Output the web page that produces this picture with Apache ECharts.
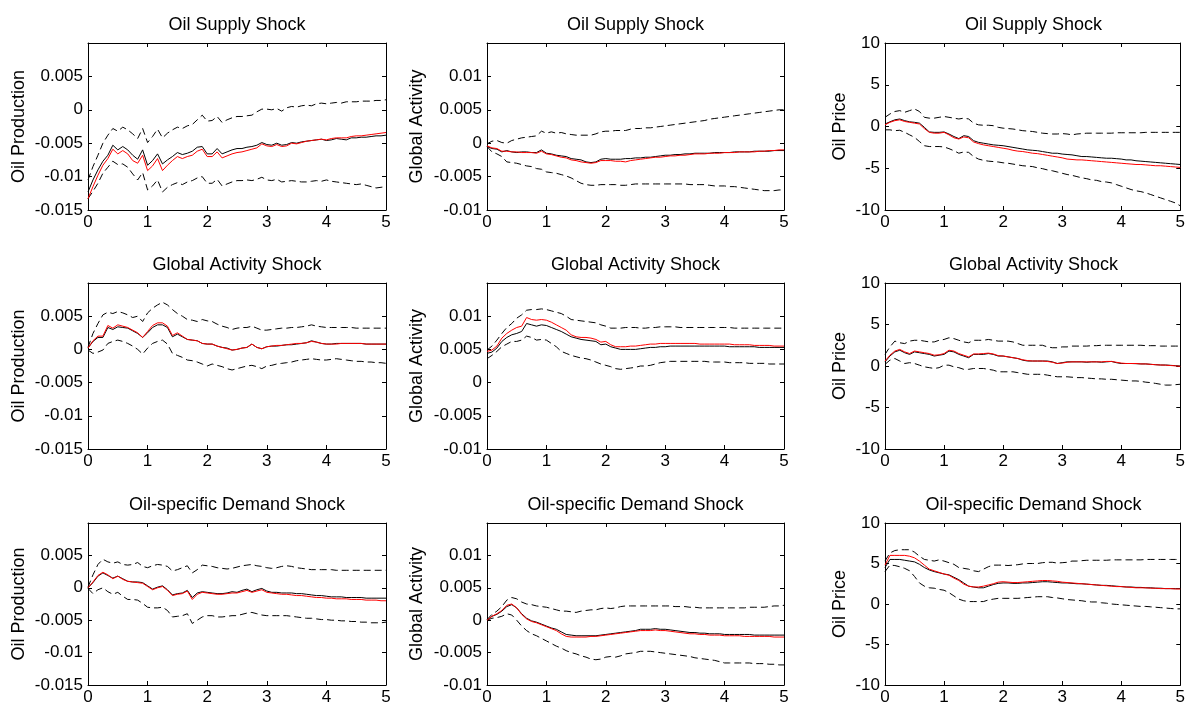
<!DOCTYPE html>
<html>
<head>
<meta charset="utf-8">
<title>Impulse responses</title>
<script src="https://cdn.jsdelivr.net/npm/echarts@6/dist/echarts.min.js"></script>
<style>
html, body { margin: 0; padding: 0; background: #fff; }
#chart { width: 1188px; height: 706px; }
</style>
</head>
<body>
<div id="chart"></div>
<script>
// horizon in months (x axis shows years)
const months = [
  0,1,2,3,4,5,6,7,8,9,10,11,12,13,14,15,16,17,18,19,20,21,22,23,24,25,26,27,28,29,
  30,31,32,33,34,35,36,37,38,39,40,41,42,43,44,45,46,47,48,49,50,51,52,53,54,55,56,57,58,59,60
];
const xTicks = [0, 1, 2, 3, 4, 5];
const prodTicks = [-0.015, -0.01, -0.005, 0, 0.005];
const actTicks = [-0.01, -0.005, 0, 0.005, 0.01];
const priceTicks = [-10, -5, 0, 5, 10];

const shocks = ["Oil Supply Shock", "Global Activity Shock", "Oil-specific Demand Shock"];
const variables = ["Oil Production", "Global Activity", "Oil Price"];

// ---- oil supply shock ----
const osProdBlack = [
  -0.0123,-0.0105,-0.0090,-0.0077,-0.0068,-0.0053,-0.0060,-0.0055,-0.0060,-0.0068,
  -0.0074,-0.0060,-0.0083,-0.0076,-0.0066,-0.0081,-0.0075,-0.0070,-0.0064,-0.0067,
  -0.0065,-0.0062,-0.0056,-0.0055,-0.0066,-0.0066,-0.0058,-0.0066,-0.0063,-0.0060,
  -0.0058,-0.0058,-0.0056,-0.0055,-0.0053,-0.0049,-0.0052,-0.0053,-0.0050,-0.0053,
  -0.0052,-0.0049,-0.0050,-0.0048,-0.0047,-0.0046,-0.0045,-0.0044,-0.0046,-0.0045,
  -0.0043,-0.0044,-0.0045,-0.0042,-0.0042,-0.0041,-0.0041,-0.0040,-0.0039,-0.0039,
  -0.0038
];
const osProdRed = [
  -0.0133,-0.0115,-0.0098,-0.0083,-0.0073,-0.0059,-0.0066,-0.0061,-0.0066,-0.0076,
  -0.0080,-0.0068,-0.0091,-0.0084,-0.0073,-0.0091,-0.0083,-0.0076,-0.0070,-0.0073,
  -0.0070,-0.0068,-0.0062,-0.0059,-0.0070,-0.0070,-0.0063,-0.0072,-0.0069,-0.0066,
  -0.0064,-0.0063,-0.0061,-0.0059,-0.0057,-0.0051,-0.0054,-0.0055,-0.0052,-0.0055,
  -0.0054,-0.0050,-0.0051,-0.0049,-0.0047,-0.0046,-0.0045,-0.0044,-0.0045,-0.0043,
  -0.0042,-0.0042,-0.0042,-0.0040,-0.0039,-0.0039,-0.0038,-0.0037,-0.0036,-0.0035,
  -0.0034
];
const osProdUp = [
  -0.0105,-0.0085,-0.0068,-0.0050,-0.0038,-0.0028,-0.0032,-0.0026,-0.0030,-0.0036,
  -0.0043,-0.0028,-0.0049,-0.0040,-0.0029,-0.0042,-0.0035,-0.0030,-0.0026,-0.0028,
  -0.0024,-0.0022,-0.0015,-0.0008,-0.0017,-0.0016,-0.0010,-0.0019,-0.0015,-0.0012,
  -0.0010,-0.0010,-0.0009,-0.0008,-0.0003,0.0001,0.0001,0.0000,0.0002,-0.0002,
  0.0003,0.0005,0.0004,0.0006,0.0007,0.0006,0.0009,0.0010,0.0009,0.0010,
  0.0011,0.0010,0.0012,0.0012,0.0012,0.0013,0.0013,0.0013,0.0014,0.0014,
  0.0015
];
const osProdLow = [
  -0.0133,-0.0122,-0.0110,-0.0095,-0.0086,-0.0077,-0.0082,-0.0081,-0.0086,-0.0096,
  -0.0105,-0.0094,-0.0120,-0.0114,-0.0105,-0.0123,-0.0116,-0.0112,-0.0109,-0.0112,
  -0.0108,-0.0106,-0.0102,-0.0100,-0.0110,-0.0110,-0.0104,-0.0114,-0.0111,-0.0108,
  -0.0106,-0.0106,-0.0105,-0.0106,-0.0104,-0.0101,-0.0105,-0.0106,-0.0104,-0.0108,
  -0.0107,-0.0106,-0.0107,-0.0108,-0.0108,-0.0107,-0.0106,-0.0107,-0.0105,-0.0107,
  -0.0108,-0.0109,-0.0110,-0.0111,-0.0112,-0.0111,-0.0113,-0.0115,-0.0117,-0.0116,
  -0.0115
];
const osActBlack = [
  -0.0005,-0.0008,-0.0009,-0.0013,-0.0011,-0.0013,-0.0014,-0.0013,-0.0013,-0.0014,
  -0.0014,-0.0010,-0.0015,-0.0016,-0.0018,-0.0019,-0.0020,-0.0023,-0.0024,-0.0025,
  -0.0028,-0.0029,-0.0028,-0.0024,-0.0023,-0.0024,-0.0024,-0.0024,-0.0023,-0.0023,
  -0.0022,-0.0022,-0.0021,-0.0021,-0.0020,-0.0019,-0.0018,-0.0018,-0.0017,-0.0017,
  -0.0016,-0.0016,-0.0015,-0.0015,-0.0015,-0.0015,-0.0014,-0.0014,-0.0014,-0.0014,
  -0.0013,-0.0013,-0.0013,-0.0013,-0.0012,-0.0012,-0.0012,-0.0012,-0.0011,-0.0011,
  -0.0011
];
const osActRed = [
  -0.0004,-0.0007,-0.0008,-0.0012,-0.0012,-0.0013,-0.0013,-0.0014,-0.0014,-0.0014,
  -0.0015,-0.0012,-0.0016,-0.0017,-0.0019,-0.0021,-0.0022,-0.0025,-0.0026,-0.0028,
  -0.0029,-0.0030,-0.0029,-0.0026,-0.0026,-0.0026,-0.0027,-0.0027,-0.0028,-0.0026,
  -0.0025,-0.0024,-0.0023,-0.0022,-0.0021,-0.0021,-0.0020,-0.0019,-0.0019,-0.0018,
  -0.0018,-0.0017,-0.0016,-0.0016,-0.0016,-0.0015,-0.0015,-0.0015,-0.0014,-0.0014,
  -0.0014,-0.0013,-0.0013,-0.0013,-0.0013,-0.0012,-0.0012,-0.0011,-0.0011,-0.0010,
  -0.0010
];
const osActUp = [
  -0.0001,0.0003,0.0004,0.0001,0.0000,0.0004,0.0006,0.0008,0.0009,0.0010,
  0.0011,0.0018,0.0015,0.0017,0.0015,0.0016,0.0014,0.0013,0.0012,0.0012,
  0.0012,0.0012,0.0014,0.0017,0.0018,0.0018,0.0019,0.0019,0.0019,0.0021,
  0.0022,0.0022,0.0023,0.0023,0.0024,0.0025,0.0026,0.0027,0.0028,0.0029,
  0.0030,0.0031,0.0032,0.0033,0.0034,0.0036,0.0037,0.0038,0.0039,0.0040,
  0.0041,0.0042,0.0043,0.0044,0.0045,0.0046,0.0047,0.0048,0.0049,0.0050,
  0.0050
];
const osActLow = [
  -0.0005,-0.0013,-0.0016,-0.0020,-0.0028,-0.0029,-0.0030,-0.0032,-0.0034,-0.0035,
  -0.0038,-0.0039,-0.0043,-0.0044,-0.0045,-0.0047,-0.0049,-0.0052,-0.0056,-0.0060,
  -0.0062,-0.0063,-0.0063,-0.0062,-0.0062,-0.0062,-0.0062,-0.0063,-0.0063,-0.0062,
  -0.0061,-0.0061,-0.0061,-0.0061,-0.0061,-0.0061,-0.0061,-0.0061,-0.0061,-0.0061,
  -0.0061,-0.0062,-0.0062,-0.0062,-0.0062,-0.0063,-0.0064,-0.0064,-0.0064,-0.0065,
  -0.0065,-0.0066,-0.0067,-0.0068,-0.0069,-0.0070,-0.0071,-0.0071,-0.0071,-0.0070,
  -0.0070
];
const osPriceBlack = [
  0.3,0.56,0.8,0.9,0.7,0.56,0.5,0.4,-0.1,-0.65,
  -0.7,-0.7,-0.65,-0.9,-1.2,-1.45,-1.1,-1.2,-1.7,-1.9,
  -2.0,-2.1,-2.2,-2.25,-2.3,-2.4,-2.5,-2.6,-2.7,-2.8,
  -2.85,-2.9,-3.0,-3.1,-3.2,-3.2,-3.3,-3.35,-3.4,-3.5,
  -3.6,-3.6,-3.65,-3.7,-3.75,-3.8,-3.8,-3.85,-3.9,-4.0,
  -4.0,-4.1,-4.15,-4.2,-4.25,-4.3,-4.35,-4.4,-4.45,-4.5,
  -4.55
];
const osPriceRed = [
  0.2,0.5,0.7,0.8,0.6,0.5,0.4,0.3,-0.25,-0.7,
  -0.8,-0.8,-0.7,-1.0,-1.35,-1.5,-1.25,-1.35,-1.85,-2.05,
  -2.2,-2.3,-2.4,-2.5,-2.6,-2.7,-2.85,-2.95,-3.0,-3.1,
  -3.2,-3.25,-3.35,-3.45,-3.55,-3.65,-3.75,-3.9,-3.95,-4.0,
  -4.0,-4.05,-4.1,-4.15,-4.2,-4.25,-4.3,-4.35,-4.4,-4.45,
  -4.5,-4.55,-4.55,-4.6,-4.65,-4.7,-4.7,-4.75,-4.8,-4.85,
  -4.9
];
const osPriceUp = [
  1.1,1.5,1.8,1.9,1.7,1.9,2.1,1.8,1.1,1.0,
  1.0,1.1,1.2,1.1,1.0,0.9,1.0,0.9,0.4,0.2,
  0.15,0.15,0.1,-0.1,-0.2,-0.25,-0.3,-0.4,-0.5,-0.55,
  -0.6,-0.7,-0.8,-0.85,-0.9,-0.9,-0.85,-0.9,-1.0,-0.9,
  -0.85,-0.8,-0.8,-0.8,-0.8,-0.8,-0.8,-0.75,-0.75,-0.75,
  -0.75,-0.75,-0.75,-0.7,-0.7,-0.7,-0.7,-0.7,-0.7,-0.7,
  -0.7
];
const osPriceLow = [
  -0.4,-0.4,-0.5,-0.45,-0.7,-1.0,-1.3,-1.8,-2.3,-2.4,
  -2.4,-2.4,-2.45,-2.65,-2.9,-3.2,-3.05,-3.1,-3.6,-3.9,
  -4.05,-4.15,-4.2,-4.25,-4.35,-4.4,-4.5,-4.6,-4.7,-4.75,
  -4.8,-4.95,-5.05,-5.2,-5.3,-5.45,-5.6,-5.75,-5.85,-6.0,
  -6.15,-6.25,-6.4,-6.45,-6.6,-6.65,-6.75,-6.95,-7.15,-7.35,
  -7.55,-7.7,-7.8,-7.95,-8.15,-8.35,-8.55,-8.75,-8.95,-9.15,
  -9.5
];

// ---- global activity shock ----
const gaProdBlack = [
  0.0002,0.0012,0.0018,0.0018,0.0033,0.0030,0.0034,0.0033,0.0032,0.0028,
  0.0024,0.0018,0.0025,0.0033,0.0037,0.0037,0.0033,0.0019,0.0023,0.0019,
  0.0015,0.0014,0.0013,0.0009,0.0008,0.0008,0.0005,0.0003,0.0002,-0.0001,
  0.0000,0.0002,0.0003,0.0008,0.0003,0.0001,0.0004,0.0005,0.0005,0.0006,
  0.0007,0.0007,0.0008,0.0009,0.0010,0.0013,0.0011,0.0009,0.0008,0.0008,
  0.0009,0.0009,0.0009,0.0009,0.0009,0.0009,0.0008,0.0008,0.0008,0.0008,
  0.0008
];
const gaProdRed = [
  0.0002,0.0013,0.0020,0.0020,0.0036,0.0032,0.0037,0.0035,0.0033,0.0029,
  0.0025,0.0018,0.0027,0.0036,0.0040,0.0040,0.0035,0.0021,0.0025,0.0020,
  0.0015,0.0014,0.0013,0.0009,0.0008,0.0008,0.0005,0.0003,0.0001,-0.0001,
  0.0000,0.0002,0.0003,0.0008,0.0003,0.0001,0.0004,0.0005,0.0006,0.0006,
  0.0007,0.0008,0.0009,0.0009,0.0010,0.0012,0.0011,0.0009,0.0008,0.0008,
  0.0008,0.0009,0.0009,0.0009,0.0009,0.0009,0.0008,0.0008,0.0008,0.0008,
  0.0008
];
const gaProdUp = [
  0.0003,0.0024,0.0039,0.0052,0.0056,0.0054,0.0057,0.0055,0.0052,0.0048,
  0.0050,0.0042,0.0055,0.0062,0.0067,0.0071,0.0067,0.0060,0.0054,0.0050,
  0.0045,0.0044,0.0042,0.0045,0.0043,0.0042,0.0038,0.0035,0.0033,0.0030,
  0.0032,0.0033,0.0033,0.0035,0.0032,0.0029,0.0029,0.0030,0.0031,0.0032,
  0.0032,0.0033,0.0033,0.0034,0.0035,0.0037,0.0035,0.0034,0.0033,0.0033,
  0.0033,0.0033,0.0033,0.0033,0.0032,0.0032,0.0032,0.0032,0.0032,0.0032,
  0.0032
];
const gaProdLow = [
  -0.0001,-0.0006,-0.0004,-0.0001,0.0009,0.0012,0.0014,0.0012,0.0009,0.0005,
  0.0000,-0.0007,0.0002,0.0009,0.0012,0.0014,0.0008,-0.0006,-0.0009,-0.0012,
  -0.0016,-0.0017,-0.0019,-0.0022,-0.0025,-0.0022,-0.0024,-0.0026,-0.0029,-0.0031,
  -0.0029,-0.0027,-0.0025,-0.0024,-0.0026,-0.0029,-0.0025,-0.0024,-0.0022,-0.0021,
  -0.0020,-0.0019,-0.0017,-0.0016,-0.0015,-0.0014,-0.0015,-0.0016,-0.0016,-0.0015,
  -0.0014,-0.0015,-0.0016,-0.0017,-0.0018,-0.0018,-0.0019,-0.0019,-0.0020,-0.0020,
  -0.0021
];
const gaActBlack = [
  0.0044,0.0046,0.0052,0.0062,0.0068,0.0072,0.0074,0.0077,0.0089,0.0087,
  0.0085,0.0087,0.0086,0.0083,0.0080,0.0077,0.0073,0.0069,0.0067,0.0065,
  0.0064,0.0063,0.0062,0.0057,0.0058,0.0054,0.0052,0.0050,0.0050,0.0050,
  0.0050,0.0051,0.0052,0.0053,0.0053,0.0054,0.0054,0.0055,0.0055,0.0055,
  0.0055,0.0055,0.0055,0.0055,0.0055,0.0055,0.0055,0.0055,0.0055,0.0054,
  0.0054,0.0054,0.0054,0.0054,0.0054,0.0053,0.0053,0.0053,0.0053,0.0053,
  0.0053
];
const gaActRed = [
  0.0047,0.0049,0.0055,0.0067,0.0074,0.0079,0.0083,0.0085,0.0098,0.0095,
  0.0094,0.0095,0.0094,0.0091,0.0087,0.0083,0.0079,0.0072,0.0069,0.0068,
  0.0068,0.0067,0.0065,0.0061,0.0062,0.0057,0.0054,0.0054,0.0054,0.0055,
  0.0055,0.0056,0.0057,0.0058,0.0058,0.0059,0.0059,0.0059,0.0059,0.0059,
  0.0059,0.0059,0.0059,0.0058,0.0058,0.0058,0.0058,0.0058,0.0058,0.0058,
  0.0057,0.0057,0.0057,0.0057,0.0056,0.0056,0.0056,0.0056,0.0055,0.0055,
  0.0055
];
const gaActUp = [
  0.0049,0.0055,0.0064,0.0074,0.0083,0.0089,0.0097,0.0102,0.0109,0.0110,
  0.0110,0.0111,0.0110,0.0108,0.0106,0.0104,0.0100,0.0095,0.0094,0.0093,
  0.0092,0.0091,0.0090,0.0087,0.0085,0.0082,0.0082,0.0082,0.0083,0.0083,
  0.0083,0.0082,0.0082,0.0083,0.0083,0.0084,0.0084,0.0084,0.0084,0.0083,
  0.0083,0.0083,0.0083,0.0083,0.0083,0.0083,0.0083,0.0083,0.0083,0.0083,
  0.0082,0.0082,0.0082,0.0082,0.0082,0.0082,0.0082,0.0082,0.0082,0.0082,
  0.0082
];
const gaActLow = [
  0.0036,0.0041,0.0047,0.0054,0.0058,0.0062,0.0062,0.0064,0.0070,0.0068,
  0.0064,0.0065,0.0064,0.0059,0.0054,0.0047,0.0044,0.0041,0.0039,0.0037,
  0.0036,0.0034,0.0031,0.0028,0.0026,0.0024,0.0021,0.0020,0.0021,0.0022,
  0.0023,0.0025,0.0025,0.0026,0.0028,0.0030,0.0031,0.0032,0.0032,0.0032,
  0.0032,0.0032,0.0032,0.0032,0.0032,0.0031,0.0031,0.0031,0.0031,0.0030,
  0.0030,0.0030,0.0030,0.0029,0.0029,0.0029,0.0029,0.0028,0.0028,0.0028,
  0.0028
];
const gaPriceBlack = [
  0.5,1.2,1.7,1.9,1.6,1.4,1.7,1.6,1.5,1.4,
  1.2,1.3,1.4,1.8,1.7,1.4,1.2,1.0,1.4,1.4,
  1.4,1.5,1.4,1.2,1.2,1.1,1.0,0.9,0.7,0.6,
  0.6,0.6,0.6,0.6,0.5,0.3,0.4,0.5,0.5,0.5,
  0.5,0.45,0.5,0.5,0.45,0.5,0.55,0.4,0.3,0.3,
  0.3,0.28,0.25,0.25,0.2,0.16,0.12,0.12,0.08,0.04,
  0.0
];
const gaPriceRed = [
  0.6,1.3,1.8,2.0,1.7,1.5,1.8,1.7,1.6,1.5,
  1.3,1.35,1.5,1.9,1.8,1.5,1.3,1.1,1.45,1.45,
  1.5,1.55,1.45,1.25,1.2,1.1,1.0,0.9,0.75,0.65,
  0.6,0.6,0.6,0.55,0.45,0.3,0.35,0.45,0.5,0.5,
  0.5,0.5,0.5,0.5,0.5,0.55,0.55,0.45,0.35,0.3,
  0.3,0.3,0.25,0.25,0.2,0.15,0.12,0.1,0.06,0.02,
  -0.05
];
const gaPriceUp = [
  1.4,2.3,3.0,2.8,2.7,3.0,3.1,3.1,3.0,2.9,
  2.9,3.1,3.2,3.4,3.3,3.1,2.9,2.8,3.1,3.1,
  3.1,3.2,3.1,3.0,3.0,3.0,2.9,2.7,2.5,2.5,
  2.5,2.5,2.5,2.3,2.2,2.2,2.3,2.3,2.4,2.4,
  2.4,2.4,2.45,2.45,2.5,2.5,2.5,2.5,2.5,2.5,
  2.5,2.5,2.5,2.45,2.45,2.45,2.4,2.4,2.4,2.4,
  2.4
];
const gaPriceLow = [
  0.2,0.7,0.9,0.6,0.3,0.4,0.3,0.1,-0.1,-0.2,
  -0.3,-0.2,0.1,0.1,-0.1,-0.2,-0.4,-0.4,-0.3,-0.3,
  -0.3,-0.4,-0.5,-0.7,-0.7,-0.7,-0.7,-0.8,-0.9,-1.0,
  -1.0,-1.0,-1.0,-1.1,-1.2,-1.3,-1.3,-1.3,-1.35,-1.4,
  -1.4,-1.45,-1.5,-1.55,-1.55,-1.6,-1.6,-1.65,-1.7,-1.75,
  -1.8,-1.8,-1.85,-1.95,-2.0,-2.1,-2.2,-2.3,-2.3,-2.25,
  -2.2
];

// ---- oil-specific demand shock ----
const odProdBlack = [
  0.0000,0.0008,0.0018,0.0023,0.0019,0.0015,0.0018,0.0014,0.0010,0.0009,
  0.0009,0.0008,0.0003,-0.0002,0.0001,0.0003,-0.0003,-0.0011,-0.0009,-0.0008,
  -0.0004,-0.0015,-0.0008,-0.0006,-0.0007,-0.0008,-0.0009,-0.0009,-0.0008,-0.0006,
  -0.0007,-0.0004,-0.0002,-0.0006,-0.0003,-0.0001,-0.0005,-0.0007,-0.0007,-0.0008,
  -0.0008,-0.0008,-0.0009,-0.0009,-0.0010,-0.0011,-0.0012,-0.0012,-0.0013,-0.0014,
  -0.0014,-0.0014,-0.0015,-0.0015,-0.0015,-0.0015,-0.0016,-0.0016,-0.0016,-0.0016,
  -0.0016
];
const odProdRed = [
  0.0000,0.0009,0.0019,0.0024,0.0020,0.0014,0.0018,0.0013,0.0010,0.0009,
  0.0008,0.0007,0.0002,-0.0003,0.0000,0.0002,-0.0004,-0.0012,-0.0010,-0.0009,
  -0.0005,-0.0018,-0.0010,-0.0007,-0.0008,-0.0009,-0.0010,-0.0010,-0.0009,-0.0008,
  -0.0008,-0.0006,-0.0004,-0.0007,-0.0005,-0.0003,-0.0007,-0.0008,-0.0009,-0.0010,
  -0.0010,-0.0011,-0.0012,-0.0012,-0.0013,-0.0014,-0.0015,-0.0015,-0.0016,-0.0016,
  -0.0017,-0.0017,-0.0017,-0.0018,-0.0018,-0.0018,-0.0019,-0.0019,-0.0019,-0.0020,
  -0.0020
];
const odProdUp = [
  0.0001,0.0020,0.0036,0.0044,0.0040,0.0038,0.0040,0.0036,0.0035,0.0036,
  0.0039,0.0033,0.0031,0.0034,0.0036,0.0035,0.0033,0.0026,0.0028,0.0031,
  0.0034,0.0023,0.0028,0.0035,0.0034,0.0033,0.0031,0.0030,0.0029,0.0030,
  0.0032,0.0034,0.0035,0.0036,0.0034,0.0033,0.0031,0.0030,0.0031,0.0033,
  0.0034,0.0033,0.0031,0.0030,0.0029,0.0028,0.0028,0.0028,0.0028,0.0028,
  0.0027,0.0027,0.0027,0.0027,0.0027,0.0027,0.0027,0.0027,0.0027,0.0027,
  0.0027
];
const odProdLow = [
  -0.0001,-0.0009,-0.0003,0.0000,-0.0006,-0.0010,-0.0007,-0.0013,-0.0018,-0.0018,
  -0.0019,-0.0024,-0.0030,-0.0031,-0.0031,-0.0030,-0.0035,-0.0045,-0.0044,-0.0043,
  -0.0040,-0.0055,-0.0050,-0.0045,-0.0043,-0.0043,-0.0045,-0.0045,-0.0044,-0.0043,
  -0.0043,-0.0041,-0.0039,-0.0038,-0.0040,-0.0042,-0.0043,-0.0043,-0.0043,-0.0043,
  -0.0043,-0.0044,-0.0045,-0.0046,-0.0047,-0.0047,-0.0048,-0.0049,-0.0049,-0.0050,
  -0.0050,-0.0051,-0.0051,-0.0052,-0.0052,-0.0053,-0.0053,-0.0054,-0.0054,-0.0054,
  -0.0053
];
const odActBlack = [
  0.0000,0.0006,0.0009,0.0014,0.0021,0.0024,0.0019,0.0010,0.0003,-0.0001,
  -0.0003,-0.0006,-0.0009,-0.0012,-0.0014,-0.0018,-0.0022,-0.0023,-0.0024,-0.0024,
  -0.0024,-0.0024,-0.0024,-0.0023,-0.0022,-0.0021,-0.0020,-0.0019,-0.0018,-0.0017,
  -0.0016,-0.0014,-0.0014,-0.0014,-0.0013,-0.0014,-0.0014,-0.0015,-0.0016,-0.0017,
  -0.0018,-0.0019,-0.0019,-0.0020,-0.0020,-0.0021,-0.0021,-0.0021,-0.0022,-0.0022,
  -0.0022,-0.0022,-0.0022,-0.0022,-0.0023,-0.0023,-0.0023,-0.0023,-0.0023,-0.0023,
  -0.0023
];
const odActRed = [
  0.0000,0.0006,0.0010,0.0015,0.0023,0.0025,0.0019,0.0009,0.0002,-0.0002,
  -0.0004,-0.0007,-0.0010,-0.0013,-0.0016,-0.0021,-0.0025,-0.0026,-0.0026,-0.0026,
  -0.0026,-0.0025,-0.0025,-0.0024,-0.0023,-0.0022,-0.0021,-0.0020,-0.0019,-0.0018,
  -0.0017,-0.0016,-0.0016,-0.0016,-0.0015,-0.0016,-0.0016,-0.0017,-0.0018,-0.0019,
  -0.0020,-0.0021,-0.0021,-0.0022,-0.0022,-0.0023,-0.0023,-0.0023,-0.0024,-0.0024,
  -0.0024,-0.0024,-0.0025,-0.0025,-0.0025,-0.0025,-0.0025,-0.0025,-0.0026,-0.0026,
  -0.0026
];
const odActUp = [
  0.0001,0.0009,0.0014,0.0021,0.0031,0.0035,0.0033,0.0028,0.0025,0.0024,
  0.0022,0.0021,0.0020,0.0018,0.0016,0.0014,0.0014,0.0013,0.0012,0.0014,
  0.0015,0.0016,0.0016,0.0018,0.0019,0.0018,0.0019,0.0021,0.0022,0.0022,
  0.0022,0.0022,0.0022,0.0022,0.0022,0.0022,0.0022,0.0022,0.0021,0.0021,
  0.0021,0.0020,0.0020,0.0019,0.0019,0.0019,0.0019,0.0019,0.0019,0.0019,
  0.0019,0.0019,0.0019,0.0020,0.0020,0.0020,0.0020,0.0021,0.0022,0.0022,
  0.0023
];
const odActLow = [
  0.0000,0.0003,0.0004,0.0006,0.0010,0.0008,0.0000,-0.0009,-0.0016,-0.0021,
  -0.0024,-0.0028,-0.0032,-0.0036,-0.0040,-0.0043,-0.0047,-0.0050,-0.0052,-0.0055,
  -0.0057,-0.0060,-0.0061,-0.0060,-0.0057,-0.0056,-0.0057,-0.0055,-0.0052,-0.0051,
  -0.0050,-0.0048,-0.0048,-0.0048,-0.0049,-0.0050,-0.0051,-0.0052,-0.0053,-0.0054,
  -0.0055,-0.0056,-0.0058,-0.0059,-0.0060,-0.0061,-0.0062,-0.0064,-0.0066,-0.0066,
  -0.0066,-0.0066,-0.0066,-0.0066,-0.0067,-0.0067,-0.0067,-0.0068,-0.0068,-0.0069,
  -0.0069
];
const odPriceBlack = [
  4.5,5.5,5.5,5.5,5.4,5.3,5.2,4.9,4.5,4.2,
  4.0,3.85,3.7,3.6,3.3,3.0,2.6,2.2,2.1,2.0,
  2.0,2.2,2.4,2.55,2.6,2.6,2.55,2.55,2.6,2.6,
  2.65,2.7,2.75,2.75,2.7,2.65,2.6,2.6,2.55,2.5,
  2.5,2.45,2.4,2.35,2.3,2.3,2.25,2.2,2.15,2.1,
  2.1,2.05,2.05,2.0,2.0,1.95,1.95,1.9,1.9,1.9,
  1.9
];
const odPriceRed = [
  4.8,6.0,6.0,6.0,6.0,5.9,5.7,5.3,4.8,4.3,
  4.1,3.9,3.7,3.55,3.2,2.9,2.45,2.2,2.1,2.1,
  2.2,2.35,2.5,2.7,2.75,2.7,2.65,2.65,2.7,2.75,
  2.8,2.85,2.9,2.9,2.85,2.8,2.7,2.65,2.6,2.55,
  2.5,2.45,2.4,2.35,2.3,2.25,2.2,2.15,2.15,2.1,
  2.05,2.0,2.0,2.0,1.95,1.95,1.9,1.9,1.9,1.85,
  1.85
];
const odPriceUp = [
  5.3,6.3,6.6,6.7,6.7,6.7,6.4,5.9,5.5,5.4,
  5.3,5.45,5.3,5.1,4.9,4.5,4.4,4.3,4.1,4.0,
  4.3,4.6,4.8,4.8,4.8,4.75,4.8,4.85,4.95,5.0,
  5.0,5.0,5.1,5.15,5.15,5.05,5.1,5.15,5.3,5.3,
  5.35,5.4,5.4,5.4,5.4,5.4,5.45,5.45,5.45,5.45,
  5.45,5.45,5.45,5.5,5.5,5.5,5.5,5.5,5.5,5.5,
  5.5
];
const odPriceLow = [
  4.0,4.8,4.75,4.6,4.4,4.1,3.4,2.6,2.2,2.0,
  1.95,1.8,1.7,1.4,1.0,0.6,0.4,0.3,0.3,0.3,
  0.3,0.5,0.6,0.7,0.7,0.7,0.7,0.7,0.75,0.8,
  0.85,0.9,0.9,0.9,0.8,0.75,0.65,0.55,0.5,0.45,
  0.4,0.3,0.25,0.25,0.15,0.1,0.0,-0.05,-0.1,-0.15,
  -0.2,-0.25,-0.3,-0.3,-0.35,-0.4,-0.45,-0.5,-0.55,-0.6,
  -0.6
];

// rows = shocks, columns = variables
const panels = [
  [
    { black: osProdBlack, red: osProdRed, up: osProdUp, low: osProdLow },
    { black: osActBlack, red: osActRed, up: osActUp, low: osActLow },
    { black: osPriceBlack, red: osPriceRed, up: osPriceUp, low: osPriceLow }
  ],
  [
    { black: gaProdBlack, red: gaProdRed, up: gaProdUp, low: gaProdLow },
    { black: gaActBlack, red: gaActRed, up: gaActUp, low: gaActLow },
    { black: gaPriceBlack, red: gaPriceRed, up: gaPriceUp, low: gaPriceLow }
  ],
  [
    { black: odProdBlack, red: odProdRed, up: odProdUp, low: odProdLow },
    { black: odActBlack, red: odActRed, up: odActUp, low: odActLow },
    { black: odPriceBlack, red: odPriceRed, up: odPriceUp, low: odPriceLow }
  ]
];

// axis settings per column
const colTicks = [prodTicks, actTicks, priceTicks];
const colRange = [[-0.015, 0.01], [-0.01, 0.015], [-10, 10]];
const colInterval = [0.005, 0.005, 5];

// layout (px)
const colLeft = [88, 487, 885];
const colWidth = [298, 297, 297];
const rowTop = [43, 283, 523];
const rowHeight = [167, 166, 165];
const nameGap = [60, 61, 36];

const font = "'Liberation Sans', Arial, Helvetica, sans-serif";

function tickText(ticks) {
  return function (v) {
    return ticks.some(t => Math.abs(t - v) < 1e-9) ? String(+v.toFixed(4)) : "";
  };
}

function toPoints(arr) {
  return months.map((m, k) => [m / 12, arr[k]]);
}

let grid = [], xAxis = [], yAxis = [], series = [], title = [];
const tick = { show: true, inside: true, length: 4, lineStyle: { color: "#000", width: 1 } };
const line = { show: true, onZero: false, lineStyle: { color: "#000", width: 1 } };

for (let r = 0; r < 3; r++) {
  for (let c = 0; c < 3; c++) {
    const i = r * 3 + c;
    grid.push({ left: colLeft[c], top: rowTop[r], width: colWidth[c], height: rowHeight[r] });
    title.push({
      text: shocks[r],
      left: colLeft[c] + colWidth[c] / 2,
      top: rowTop[r] - 27,
      textAlign: "center",
      padding: 0,
      textStyle: { fontFamily: font, fontSize: 18, fontWeight: "normal", color: "#000" }
    });
    const xBase = {
      gridIndex: i, type: "value", min: 0, max: 5, interval: 1,
      axisLine: line, axisTick: tick, splitLine: { show: false }
    };
    xAxis.push(Object.assign({}, xBase, {
      position: "bottom",
      axisLabel: {
        margin: 4, color: "#000", fontFamily: font, fontSize: 17,
        formatter: tickText(xTicks)
      }
    }));
    xAxis.push(Object.assign({}, xBase, { position: "top", axisLabel: { show: false } }));

    const yBase = {
      gridIndex: i, type: "value",
      min: colRange[c][0], max: colRange[c][1], interval: colInterval[c],
      axisLine: line, axisTick: tick, splitLine: { show: false }
    };
    yAxis.push(Object.assign({}, yBase, {
      position: "left",
      name: variables[c], nameLocation: "middle", nameGap: nameGap[c], nameRotate: 90,
      nameTextStyle: { fontFamily: font, fontSize: 18, color: "#000" },
      axisLabel: {
        margin: 5, color: "#000", fontFamily: font, fontSize: 17,
        formatter: tickText(colTicks[c])
      }
    }));
    yAxis.push(Object.assign({}, yBase, { position: "right", axisLabel: { show: false } }));

    const p = panels[r][c];
    const common = {
      type: "line", xAxisIndex: 2 * i, yAxisIndex: 2 * i,
      showSymbol: false, symbol: "none", silent: true, animation: false
    };
    series.push(Object.assign({}, common, {
      data: toPoints(p.up), lineStyle: { color: "#000", width: 1, type: [7, 4] }
    }));
    series.push(Object.assign({}, common, {
      data: toPoints(p.low), lineStyle: { color: "#000", width: 1, type: [7, 4] }
    }));
    series.push(Object.assign({}, common, {
      data: toPoints(p.black), lineStyle: { color: "#000", width: 1 }
    }));
    series.push(Object.assign({}, common, {
      data: toPoints(p.red), lineStyle: { color: "#ff0000", width: 1 }
    }));
  }
}

const chart = echarts.init(document.getElementById("chart"), null, { renderer: "canvas" });
chart.setOption({
  animation: false,
  backgroundColor: "#fff",
  title: title,
  grid: grid,
  xAxis: xAxis,
  yAxis: yAxis,
  series: series
});
</script>
</body>
</html>
